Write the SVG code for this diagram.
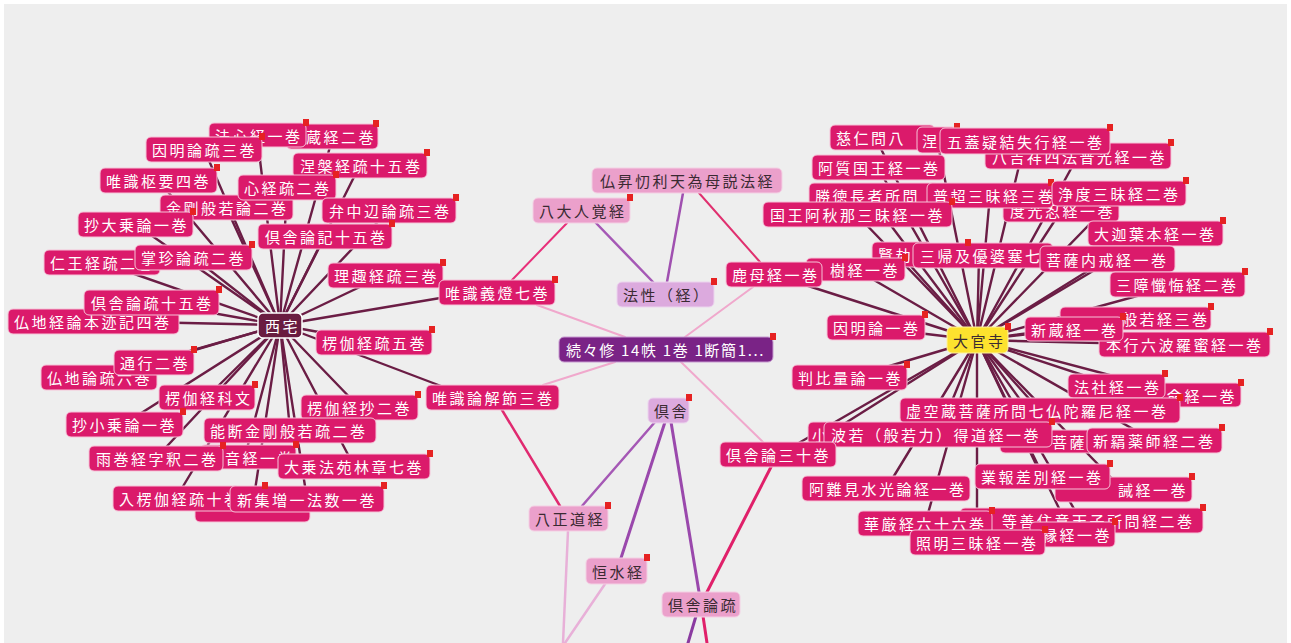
<svg xmlns="http://www.w3.org/2000/svg" width="1291" height="643" viewBox="0 0 1291 643">
<style>
.bg{fill:#eeeeee}
.n rect.b{fill:#db1a6b;stroke:#f6c3d8;stroke-width:1}
.lp rect.b{fill:#eba0cb;stroke:#f4d0e4;stroke-width:1}
.lv rect.b{fill:#dcaade;stroke:#ecd4ee;stroke-width:1}
.pu rect.b{fill:#7a2386;stroke:#c79ad0;stroke-width:1}
.hub rect.b{fill:#6a1c40;stroke:#ffffff;stroke-width:1.5}
.yel rect.b{fill:#fde22e;stroke:#fff3a0;stroke-width:1}
text{font-family:"Noto Sans CJK JP","Noto Sans CJK SC",sans-serif;font-size:15px;letter-spacing:2.5px;fill:#ffffff;dominant-baseline:central}
.lp text,.lv text,.yel text{fill:#3a2a32}
.mk{fill:#e62222}
.sp line{stroke:#6b1d45;stroke-width:2.4;stroke-linecap:round}
.c line{stroke-linecap:round}
</style>
<rect width="1291" height="643" fill="#ffffff"/>
<rect class="bg" x="4" y="4" width="1283" height="639"/>
<g id="connectors">
<g class="sp">
<line x1="280" y1="325" x2="333" y2="136"/><line x1="280" y1="325" x2="257" y2="135"/><line x1="280" y1="325" x2="204" y2="149"/><line x1="280" y1="325" x2="360" y2="165"/><line x1="280" y1="325" x2="158" y2="180"/><line x1="280" y1="325" x2="287" y2="187"/><line x1="280" y1="325" x2="226" y2="207"/><line x1="280" y1="325" x2="389" y2="210"/><line x1="280" y1="325" x2="135" y2="224"/><line x1="280" y1="325" x2="325" y2="236"/><line x1="280" y1="325" x2="100" y2="262"/><line x1="280" y1="325" x2="193" y2="257"/><line x1="280" y1="325" x2="385" y2="275"/><line x1="280" y1="325" x2="470" y2="293"/><line x1="280" y1="325" x2="151" y2="302"/><line x1="280" y1="325" x2="93" y2="321"/><line x1="280" y1="325" x2="374" y2="342"/><line x1="280" y1="325" x2="154" y2="362"/><line x1="280" y1="325" x2="99" y2="377"/><line x1="280" y1="325" x2="207" y2="397"/><line x1="280" y1="325" x2="470" y2="397"/><line x1="280" y1="325" x2="359" y2="407"/><line x1="280" y1="325" x2="124" y2="424"/><line x1="280" y1="325" x2="290" y2="430"/><line x1="280" y1="325" x2="156" y2="458"/><line x1="280" y1="325" x2="245" y2="456"/><line x1="280" y1="325" x2="354" y2="466"/><line x1="280" y1="325" x2="176" y2="498"/><line x1="280" y1="325" x2="307" y2="499"/><line x1="280" y1="325" x2="252" y2="510"/>
<line x1="977" y1="340" x2="875" y2="137"/><line x1="977" y1="340" x2="937" y2="140"/><line x1="977" y1="340" x2="1025" y2="141"/><line x1="977" y1="340" x2="1078" y2="156"/><line x1="977" y1="340" x2="878" y2="168"/><line x1="977" y1="340" x2="868" y2="195"/><line x1="977" y1="340" x2="1061" y2="211"/><line x1="977" y1="340" x2="990" y2="195"/><line x1="977" y1="340" x2="1119" y2="194"/><line x1="977" y1="340" x2="857" y2="215"/><line x1="977" y1="340" x2="1155" y2="234"/><line x1="977" y1="340" x2="900" y2="254"/><line x1="977" y1="340" x2="979" y2="256"/><line x1="977" y1="340" x2="1107" y2="259"/><line x1="977" y1="340" x2="855" y2="269"/><line x1="977" y1="340" x2="774" y2="275"/><line x1="977" y1="340" x2="1177" y2="285"/><line x1="977" y1="340" x2="876" y2="328"/><line x1="977" y1="340" x2="1135" y2="319"/><line x1="977" y1="340" x2="1074" y2="329"/><line x1="977" y1="340" x2="1184" y2="345"/><line x1="977" y1="340" x2="849" y2="378"/><line x1="977" y1="340" x2="1116" y2="386"/><line x1="977" y1="340" x2="1185" y2="395"/><line x1="977" y1="340" x2="1040" y2="411"/><line x1="977" y1="340" x2="828" y2="434"/><line x1="977" y1="340" x2="938" y2="435"/><line x1="977" y1="340" x2="1050" y2="441"/><line x1="977" y1="340" x2="1154" y2="441"/><line x1="977" y1="340" x2="778" y2="455"/><line x1="977" y1="340" x2="886" y2="489"/><line x1="977" y1="340" x2="1042" y2="477"/><line x1="977" y1="340" x2="1123" y2="490"/><line x1="977" y1="340" x2="925" y2="524"/><line x1="977" y1="340" x2="1081" y2="521"/><line x1="977" y1="340" x2="977" y2="543"/><line x1="977" y1="340" x2="1072" y2="535"/>
</g>
<g class="c">
<line x1="512" y1="280" x2="567" y2="223" stroke="#e8307a" stroke-width="2"/>
<line x1="596" y1="223" x2="653" y2="282" stroke="#a558b5" stroke-width="2.5"/>
<line x1="683" y1="193" x2="667" y2="282" stroke="#a050b0" stroke-width="2.5"/>
<line x1="699" y1="193" x2="760" y2="262" stroke="#e0306f" stroke-width="2"/>
<line x1="753" y1="287" x2="685" y2="337" stroke="#f0a8cc" stroke-width="2"/>
<line x1="537" y1="305" x2="625" y2="337" stroke="#f0a8cc" stroke-width="2"/>
<line x1="615" y1="362" x2="543" y2="385" stroke="#f0a8cc" stroke-width="2"/>
<line x1="681" y1="362" x2="763" y2="442" stroke="#f0a8cc" stroke-width="2"/>
<line x1="502" y1="410" x2="560" y2="506" stroke="#e02a70" stroke-width="2.5"/>
<line x1="655" y1="422" x2="582" y2="506" stroke="#a558b5" stroke-width="2.5"/>
<line x1="665" y1="422" x2="621" y2="558" stroke="#9a48ac" stroke-width="3"/>
<line x1="671" y1="422" x2="699" y2="592" stroke="#9a48ac" stroke-width="3"/>
<line x1="771" y1="467" x2="707" y2="592" stroke="#e0206a" stroke-width="3"/>
<line x1="568" y1="531" x2="563" y2="643" stroke="#e8b0d8" stroke-width="2.5"/>
<line x1="605" y1="584" x2="565" y2="643" stroke="#e8b0d8" stroke-width="2.5"/>
<line x1="696" y1="616" x2="688" y2="643" stroke="#8a3aa0" stroke-width="3"/>
<line x1="703" y1="616" x2="707" y2="643" stroke="#e0206a" stroke-width="3"/>
</g>
</g>

<!-- left cluster -->
<g id="n-zokyo2" class="n"><rect class="b" x="286" y="124" width="92" height="25" rx="5"/><text x="306" y="136.5">蔵経二巻</text><rect class="mk" x="373" y="120" width="6" height="7"/></g>
<g id="n-hoshin" class="n"><rect class="b" x="209" y="123" width="97" height="24" rx="5"/><text x="215" y="135">法心経一巻</text><rect class="mk" x="303" y="119" width="6" height="7"/></g>
<g id="n-inmyoso" class="n"><rect class="b" x="146" y="137" width="116" height="25" rx="5"/><text x="152" y="149.5">因明論疏三巻</text><rect class="mk" x="259" y="133" width="6" height="7"/></g>
<g id="n-nehan" class="n"><rect class="b" x="293" y="153" width="134" height="25" rx="5"/><text x="300" y="165.5">涅槃経疏十五巻</text><rect class="mk" x="424" y="149" width="6" height="7"/></g>
<g id="n-yuishikisuyo" class="n"><rect class="b" x="100" y="168" width="117" height="25" rx="5"/><text x="106" y="180.5">唯識枢要四巻</text><rect class="mk" x="214" y="164" width="6" height="7"/></g>
<g id="n-kongo" class="n"><rect class="b" x="160" y="195" width="133" height="25" rx="5"/><text x="166" y="207.5">金剛般若論二巻</text></g>
<g id="n-shingyoso" class="n"><rect class="b" x="238" y="175" width="98" height="25" rx="5"/><text x="244" y="187.5">心経疏二巻</text><rect class="mk" x="333" y="171" width="6" height="7"/></g>
<g id="n-benchuhen" class="n"><rect class="b" x="322" y="198" width="134" height="25" rx="5"/><text x="329" y="210.5">弁中辺論疏三巻</text><rect class="mk" x="453" y="194" width="6" height="7"/></g>
<g id="n-shodaijo" class="n"><rect class="b" x="78" y="212" width="115" height="25" rx="5"/><text x="84" y="224.5">抄大乗論一巻</text><rect class="mk" x="190" y="208" width="6" height="7"/></g>
<g id="n-kusharonki" class="n"><rect class="b" x="258" y="224" width="134" height="25" rx="5"/><text x="265" y="236.5">倶舎論記十五巻</text><rect class="mk" x="389" y="220" width="6" height="7"/></g>
<g id="n-ninno" class="n"><rect class="b" x="44" y="250" width="116" height="25" rx="5"/><text x="50" y="262.5">仁王経疏二巻</text></g>
<g id="n-shochin" class="n"><rect class="b" x="135" y="245" width="117" height="25" rx="5"/><text x="141" y="257.5">掌珍論疏二巻</text><rect class="mk" x="249" y="241" width="6" height="7"/></g>
<g id="n-rishu" class="n"><rect class="b" x="328" y="263" width="115" height="25" rx="5"/><text x="334" y="275.5">理趣経疏三巻</text><rect class="mk" x="440" y="259" width="6" height="7"/></g>
<g id="n-butchikyoron" class="n"><rect class="b" x="8" y="309" width="171" height="25" rx="5"/><text x="14" y="321.5">仏地経論本迹記四巻</text></g>
<g id="n-kusharonso15" class="n"><rect class="b" x="84" y="290" width="135" height="25" rx="5"/><text x="91" y="302.5">倶舎論疏十五巻</text><rect class="mk" x="216" y="286" width="6" height="7"/></g>
<g id="n-ryogaso" class="n"><rect class="b" x="316" y="330" width="116" height="25" rx="5"/><text x="322" y="342.5">楞伽経疏五巻</text><rect class="mk" x="429" y="326" width="6" height="7"/></g>
<g id="n-butchironso" class="n"><rect class="b" x="41" y="365" width="116" height="25" rx="5"/><text x="47" y="377.5">仏地論疏六巻</text></g>
<g id="n-tsugyo" class="n"><rect class="b" x="114" y="350" width="80" height="25" rx="5"/><text x="120" y="362.5">通行二巻</text><rect class="mk" x="191" y="346" width="6" height="7"/></g>
<g id="n-ryogakamon" class="n"><rect class="b" x="159" y="385" width="96" height="25" rx="5"/><text x="165" y="397.5">楞伽経科文</text><rect class="mk" x="252" y="381" width="6" height="7"/></g>
<g id="n-ryogasho" class="n"><rect class="b" x="301" y="395" width="117" height="25" rx="5"/><text x="307" y="407.5">楞伽経抄二巻</text><rect class="mk" x="415" y="391" width="6" height="7"/></g>
<g id="n-shoshojo" class="n"><rect class="b" x="66" y="412" width="117" height="25" rx="5"/><text x="72" y="424.5">抄小乗論一巻</text><rect class="mk" x="180" y="408" width="6" height="7"/></g>
<g id="n-nodan" class="n"><rect class="b" x="204" y="418" width="172" height="25" rx="5"/><text x="210" y="430.5">能断金剛般若疏二巻</text></g>
<g id="n-ongyo" class="n"><rect class="b" x="200" y="445" width="96" height="24" rx="5"/><text x="225" y="457">音経一巻</text><rect class="mk" x="293" y="441" width="6" height="7"/></g>
<g id="n-ukan" class="n"><rect class="b" x="89" y="446" width="134" height="25" rx="5"/><text x="96" y="458.5">雨巻経字釈二巻</text><rect class="mk" x="220" y="442" width="6" height="7"/></g>
<g id="n-hoon" class="n"><rect class="b" x="278" y="454" width="152" height="25" rx="5"/><text x="284" y="466.5">大乗法苑林章七巻</text><rect class="mk" x="427" y="450" width="6" height="7"/></g>
<g id="n-hidden" class="n"><rect class="b" x="195" y="497" width="115" height="25" rx="5"/></g>
<g id="n-nyuryoga" class="n"><rect class="b" x="113" y="486" width="127" height="25" rx="5"/><text x="119" y="498.5">入楞伽経疏十巻</text></g>
<g id="n-shinshu" class="n"><rect class="b" x="230" y="486" width="154" height="26" rx="5"/><text x="237" y="499">新集増一法数一巻</text><rect class="mk" x="381" y="482" width="6" height="7"/><rect class="mk" x="262" y="482" width="6" height="7"/></g>
<g id="n-saitaku" class="n hub"><rect class="b" x="258" y="313" width="44" height="25" rx="5"/><text x="265" y="325.5">西宅</text></g>

<!-- center -->
<g id="n-yuishikigito" class="n"><rect class="b" x="439" y="280" width="116" height="25" rx="5"/><text x="445" y="292.5">唯識義燈七巻</text><rect class="mk" x="552" y="276" width="6" height="7"/></g>
<g id="n-yuishikige" class="n"><rect class="b" x="426" y="385" width="133" height="25" rx="5"/><text x="432" y="397.5">唯識論解節三巻</text></g>
<g id="n-bussho" class="n lp"><rect class="b" x="592" y="168" width="190" height="25" rx="5"/><text x="600" y="180.5">仏昇忉利天為母説法経</text></g>
<g id="n-hachidainin" class="n lp"><rect class="b" x="533" y="198" width="97" height="25" rx="5"/><text x="539" y="210.5">八大人覚経</text><rect class="mk" x="627" y="194" width="6" height="7"/></g>
<g id="n-hossho" class="n lv"><rect class="b" x="617" y="282" width="97" height="25" rx="5"/><text x="623" y="294.5">法性（経）</text><rect class="mk" x="711" y="278" width="6" height="7"/></g>
<g id="n-zokuzoku" class="n pu"><rect class="b" x="559" y="337" width="214" height="25" rx="5"/><text x="566" y="349.5" textLength="200" lengthAdjust="spacing">続々修 14帙 1巻 1断簡1...</text><rect class="mk" x="770" y="333" width="6" height="7"/></g>
<g id="n-kusha" class="n lv"><rect class="b" x="648" y="398" width="41" height="25" rx="5"/><text x="654" y="410.5">倶舎</text><rect class="mk" x="686" y="394" width="6" height="7"/></g>
<g id="n-hasshodo" class="n lp"><rect class="b" x="529" y="506" width="79" height="25" rx="5"/><text x="535" y="518.5">八正道経</text><rect class="mk" x="605" y="502" width="6" height="7"/></g>
<g id="n-gosui" class="n lp"><rect class="b" x="586" y="558" width="61" height="26" rx="5"/><text x="592" y="571">恒水経</text><rect class="mk" x="644" y="554" width="6" height="7"/></g>
<g id="n-kusharonso" class="n lp"><rect class="b" x="662" y="592" width="78" height="25" rx="5"/><text x="668" y="604.5">倶舎論疏</text></g>

<!-- right cluster -->
<g id="n-jinin" class="n"><rect class="b" x="830" y="125" width="105" height="25" rx="5"/><text x="836" y="137.5">慈仁問八</text></g>
<g id="n-ne" class="n"><rect class="b" x="917" y="127" width="40" height="26" rx="5"/><text x="922" y="140">涅</text><rect class="mk" x="954" y="123" width="6" height="7"/></g>
<g id="n-hachikissho" class="n"><rect class="b" x="985" y="143" width="186" height="26" rx="5"/><text x="992" y="156">八吉祥四法普光経一巻</text><rect class="mk" x="1168" y="139" width="6" height="7"/></g>
<g id="n-gogai" class="n"><rect class="b" x="940" y="128" width="170" height="26" rx="5"/><text x="947" y="141">五蓋疑結失行経一巻</text><rect class="mk" x="1107" y="124" width="6" height="7"/></g>
<g id="n-ashitsu" class="n"><rect class="b" x="812" y="155" width="133" height="25" rx="5"/><text x="818" y="167.5">阿質国王経一巻</text></g>
<g id="n-shotoku" class="n"><rect class="b" x="809" y="183" width="130" height="24" rx="5"/><text x="815" y="195">勝徳長者所問</text></g>
<g id="n-doko" class="n"><rect class="b" x="1003" y="198" width="116" height="24" rx="5"/><text x="1010" y="210">度光忍経一巻</text></g>
<g id="n-fucho" class="n"><rect class="b" x="927" y="183" width="126" height="25" rx="5"/><text x="933" y="195.5">普超三昧経三巻</text><rect class="mk" x="1048" y="179" width="6" height="7"/></g>
<g id="n-jodo" class="n"><rect class="b" x="1052" y="181" width="134" height="25" rx="5"/><text x="1058" y="193.5">浄度三昧経二巻</text><rect class="mk" x="1183" y="177" width="6" height="7"/></g>
<g id="n-kokuo" class="n"><rect class="b" x="763" y="202" width="189" height="25" rx="5"/><text x="770" y="214.5">国王阿秋那三昧経一巻</text><rect class="mk" x="949" y="198" width="6" height="7"/></g>
<g id="n-daikasho" class="n"><rect class="b" x="1088" y="221" width="135" height="25" rx="5"/><text x="1094" y="233.5">大迦葉本経一巻</text><rect class="mk" x="1220" y="217" width="6" height="7"/></g>
<g id="n-kengo" class="n"><rect class="b" x="872" y="242" width="60" height="25" rx="5"/><text x="878" y="254.5">賢劫</text></g>
<g id="n-sanki" class="n"><rect class="b" x="913" y="243" width="140" height="25" rx="5"/><text x="920" y="255.5">三帰及優婆塞七</text><rect class="mk" x="965" y="239" width="6" height="7"/></g>
<g id="n-bosatsunaikai" class="n"><rect class="b" x="1040" y="246" width="135" height="26" rx="5"/><text x="1046" y="259">菩薩内戒経一巻</text></g>
<g id="n-jukyo" class="n"><rect class="b" x="806" y="258" width="99" height="23" rx="5"/><text x="830" y="269.5">樹経一巻</text><rect class="mk" x="902" y="254" width="6" height="7"/></g>
<g id="n-rokumo" class="n"><rect class="b" x="726" y="262" width="96" height="25" rx="5"/><text x="732" y="274.5">鹿母経一巻</text></g>
<g id="n-sansho" class="n"><rect class="b" x="1110" y="272" width="135" height="25" rx="5"/><text x="1116" y="284.5">三障懺悔経二巻</text><rect class="mk" x="1242" y="268" width="6" height="7"/></g>
<g id="n-hannya3" class="n"><rect class="b" x="1060" y="307" width="151" height="23" rx="5"/><text x="1122" y="318.5">般若経三巻</text><rect class="mk" x="1208" y="303" width="6" height="7"/></g>
<g id="n-hongyo" class="n"><rect class="b" x="1099" y="332" width="171" height="25" rx="5"/><text x="1106" y="344.5">本行六波羅蜜経一巻</text><rect class="mk" x="1267" y="328" width="6" height="7"/></g>
<g id="n-shinzo" class="n"><rect class="b" x="1025" y="317" width="98" height="24" rx="5"/><text x="1031" y="329">新蔵経一巻</text><rect class="mk" x="1120" y="313" width="6" height="7"/></g>
<g id="n-inmyoron" class="n"><rect class="b" x="827" y="315" width="98" height="25" rx="5"/><text x="833" y="327.5">因明論一巻</text><rect class="mk" x="922" y="311" width="6" height="7"/></g>
<g id="n-daikanji" class="n yel"><rect class="b" x="947" y="327" width="61" height="26" rx="5"/><text x="953" y="340">大官寺</text><rect class="mk" x="1005" y="323" width="6" height="7"/></g>
<g id="n-hanpiryo" class="n"><rect class="b" x="792" y="365" width="115" height="25" rx="5"/><text x="798" y="377.5">判比量論一巻</text><rect class="mk" x="904" y="361" width="6" height="7"/></g>
<g id="n-myokyo" class="n"><rect class="b" x="1130" y="383" width="111" height="24" rx="5"/><text x="1167" y="395">命経一巻</text><rect class="mk" x="1238" y="379" width="6" height="7"/></g>
<g id="n-hosha" class="n"><rect class="b" x="1068" y="374" width="97" height="24" rx="5"/><text x="1074" y="386">法社経一巻</text><rect class="mk" x="1162" y="370" width="6" height="7"/></g>
<g id="n-kokuzo" class="n"><rect class="b" x="900" y="398" width="280" height="25" rx="5"/><text x="906" y="410.5">虚空蔵菩薩所問七仏陀羅尼経一巻</text><rect class="mk" x="1177" y="394" width="6" height="7"/></g>
<g id="n-sho" class="n"><rect class="b" x="808" y="422" width="40" height="24" rx="5"/><text x="812" y="434">小</text></g>
<g id="n-bosatsu" class="n"><rect class="b" x="1000" y="430" width="100" height="23" rx="5"/><text x="1052" y="441.5">菩薩</text></g>
<g id="n-hanya" class="n"><rect class="b" x="824" y="422" width="228" height="25" rx="5"/><text x="831" y="434.5">波若（般若力）得道経一巻</text><rect class="mk" x="1049" y="418" width="6" height="7"/></g>
<g id="n-shinken" class="n"><rect class="b" x="1087" y="428" width="135" height="25" rx="5"/><text x="1093" y="440.5">新羂薬師経二巻</text><rect class="mk" x="1219" y="424" width="6" height="7"/></g>
<g id="n-kusharon30" class="n"><rect class="b" x="720" y="442" width="116" height="25" rx="5"/><text x="726" y="454.5">倶舎論三十巻</text></g>
<g id="n-anan" class="n"><rect class="b" x="802" y="476" width="168" height="25" rx="5"/><text x="809" y="488.5">阿難見水光論経一巻</text></g>
<g id="n-kaikyo" class="n"><rect class="b" x="1055" y="477" width="137" height="25" rx="5"/><text x="1118" y="489.5">誡経一巻</text><rect class="mk" x="1189" y="473" width="6" height="7"/></g>
<g id="n-goho" class="n"><rect class="b" x="975" y="464" width="135" height="25" rx="5"/><text x="981" y="476.5">業報差別経一巻</text><rect class="mk" x="1107" y="460" width="6" height="7"/></g>
<g id="n-tozen" class="n"><rect class="b" x="960" y="508" width="243" height="25" rx="5"/><text x="1002" y="520.5">等善住意天子所問経二巻</text><rect class="mk" x="1200" y="504" width="6" height="7"/></g>
<g id="n-kegon" class="n"><rect class="b" x="858" y="511" width="134" height="25" rx="5"/><text x="864" y="523.5">華厳経六十六巻</text><rect class="mk" x="989" y="507" width="6" height="7"/></g>
<g id="n-enkyo" class="n"><rect class="b" x="1030" y="522" width="85" height="25" rx="5"/><text x="1042" y="534.5">縁経一巻</text><rect class="mk" x="1112" y="518" width="6" height="7"/></g>
<g id="n-shomyo" class="n"><rect class="b" x="910" y="530" width="135" height="25" rx="5"/><text x="916" y="542.5">照明三昧経一巻</text><rect class="mk" x="1042" y="526" width="6" height="7"/></g>
</svg>
